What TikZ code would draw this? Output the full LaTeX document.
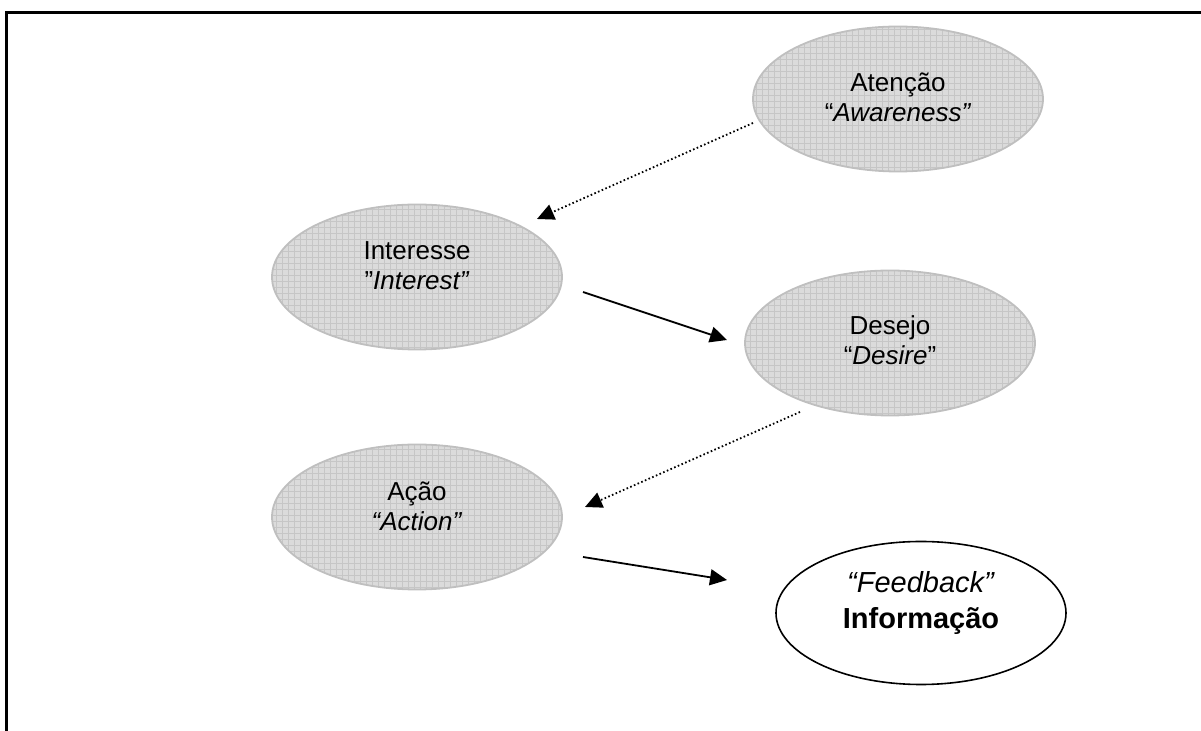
\documentclass[tikz,border=0pt]{standalone}
\usepackage{fontspec}
\setmainfont{Liberation Sans}
\usetikzlibrary{shapes.geometric,arrows.meta,patterns}

\tikzset{
  stage/.style={ellipse, minimum width=145pt, minimum height=72.5pt, inner sep=0pt,
    draw=gray!50, line width=0.9pt, preaction={fill=gray!28},
    pattern=grid, pattern color=gray!45},
  result/.style={ellipse, minimum width=145pt, minimum height=71.5pt, inner sep=0pt,
    draw=black, line width=0.8pt, fill=white},
  stagetext/.style={inner sep=0pt, align=center, font=\fontsize{13}{15}\selectfont},
  resulttext/.style={inner sep=0pt, align=center, font=\fontsize{14.5}{18}\selectfont},
  flow/.style={line width=0.9pt, -{Triangle[length=8.5pt, width=8pt]}},
  dotflow/.style={flow, dash pattern=on 0.8pt off 1.2pt},
  frameline/.style={line width=1.2pt, black}
}

\begin{document}
\begin{tikzpicture}[x=0.5pt, y=-0.5pt]
  \useasboundingbox (0,0) rectangle (1201,731);

  % open frame: top and left edges
  \coordinate (fl) at (6.5,731);
  \coordinate (fc) at (6.5,12.5);
  \coordinate (fr) at (1201,12.5);
  \draw[frameline] (fl) -- (fc) -- (fr);

  % stages of the model
  \node[stage]  (att) at (898,99)  {};
  \node[stage]  (int) at (417,277) {};
  \node[stage]  (des) at (890,343) {};
  \node[stage]  (aca) at (417,517) {};
  \node[result] (inf) at (921,613) {};

  % their captions, set a little above the centre
  \node[stagetext]  (att-t) at (898,97)  {Atenção\\“\textit{Awareness”}};
  \node[stagetext]  (int-t) at (417,266) {Interesse\\”\textit{Interest”}};
  \node[stagetext]  (des-t) at (890,340) {Desejo\\“\textit{Desire}”};
  \node[stagetext]  (aca-t) at (417,506) {Ação\\\textit{“Action”}};
  \node[resulttext] (inf-t) at (921,603) {\textit{“Feedback”}\\\textbf{Informação}};

  % transitions
  \draw[dotflow] ([shift={(-145,24)}]att.center) -- ([shift={(120,-58)}]int.center);
  \draw[flow]    ([shift={(166,15)}]int.center)  -- ([shift={(-163,-3)}]des.center);
  \draw[dotflow] ([shift={(-90,69)}]des.center)  -- ([shift={(168,-10)}]aca.center);
  \draw[flow]    ([shift={(166,40)}]aca.center)  -- ([shift={(-194,-33)}]inf.center);
\end{tikzpicture}
\end{document}
